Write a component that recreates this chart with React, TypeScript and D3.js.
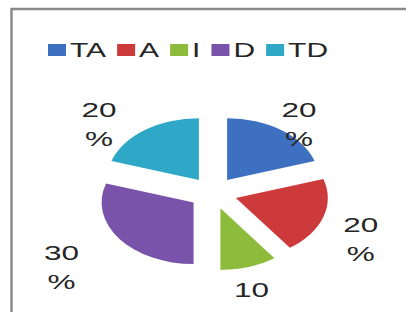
import React, {useEffect, useRef} from 'react'
import * as d3 from 'd3'

const categories = ['TA', 'A', 'I', 'D', 'TD'];
const values = [20, 20, 10, 30, 20];
const colors = ['#3e70c1', '#cc3a3b', '#8dbb3c', '#7953a9', '#2ea8c6'];

const width = 406;
const height = 312;
// the picture is stretched sideways, so text is widened and the pie squashed
const stretch = 1.5;
const squash = 0.67;
const cx = 213;
const cy = 193;
const radius = 92;
const explode = 24;

export default function App() {
  const ref = useRef<SVGSVGElement>(null);

  useEffect(() => {
    const svg = d3.select(ref.current);
    svg.selectAll('*').remove();

    // frame
    svg.append('path')
      .attr('d', `M11.5,${height} V9 H${width}`)
      .attr('fill', 'none')
      .attr('stroke', '#8a8a8a')
      .attr('stroke-width', 2.5);

    const pie = d3.pie<number>().sort(null).value(d => d);
    const arcs = pie(values);
    const arcGen = d3.arc<d3.PieArcDatum<number>>().innerRadius(0).outerRadius(radius);

    const g = svg.append('g')
      .attr('transform', `translate(${cx},${cy}) scale(1,${squash})`);

    g.selectAll('path')
      .data(arcs)
      .enter()
      .append('path')
      .attr('d', arcGen)
      .attr('fill', (d, i) => colors[i])
      .attr('transform', d => {
        const mid = (d.startAngle + d.endAngle) / 2;
        return `translate(${explode * Math.sin(mid)},${-explode * Math.cos(mid)})`
      });

    // data labels, "20" over "%"
    const labels = svg.append('g')
      .attr('font-family', '"Liberation Sans", Arial, sans-serif')
      .attr('font-size', 21)
      .attr('fill', '#262626')
      .attr('text-anchor', 'middle');

    arcs.forEach(d => {
      const mid = (d.startAngle + d.endAngle) / 2;
      const x = cx - 14 + 170 * Math.sin(mid);
      const y = cy + 7 - 102 * Math.cos(mid);
      const t = labels.append('text')
        .attr('transform', `translate(${x},${y}) scale(${stretch},1)`);
      t.append('tspan').attr('x', 0).attr('y', 0).text(`${d.data}`);
      t.append('tspan').attr('x', 0).attr('y', 29).text('%');
    });

    // legend
    const legend = svg.append('g')
      .attr('font-family', '"Liberation Sans", Arial, sans-serif')
      .attr('font-size', 20)
      .attr('fill', '#262626');

    let lx = 48;
    categories.forEach((c, i) => {
      legend.append('rect')
        .attr('x', lx)
        .attr('y', 44)
        .attr('width', 18)
        .attr('height', 12)
        .attr('fill', colors[i]);
      lx += 22;
      const t = legend.append('text')
        .attr('transform', `translate(${lx},57) scale(${stretch},1)`)
        .text(c);
      const w = (t.node() as SVGTextElement).getComputedTextLength() * stretch;
      lx += w + 11;
    });
  }, []);

  return (
    <svg ref={ref} width={width} height={height}
         style={{position: 'absolute', left: 0, top: 0, background: '#fff'}}>
    </svg>
  )
}
